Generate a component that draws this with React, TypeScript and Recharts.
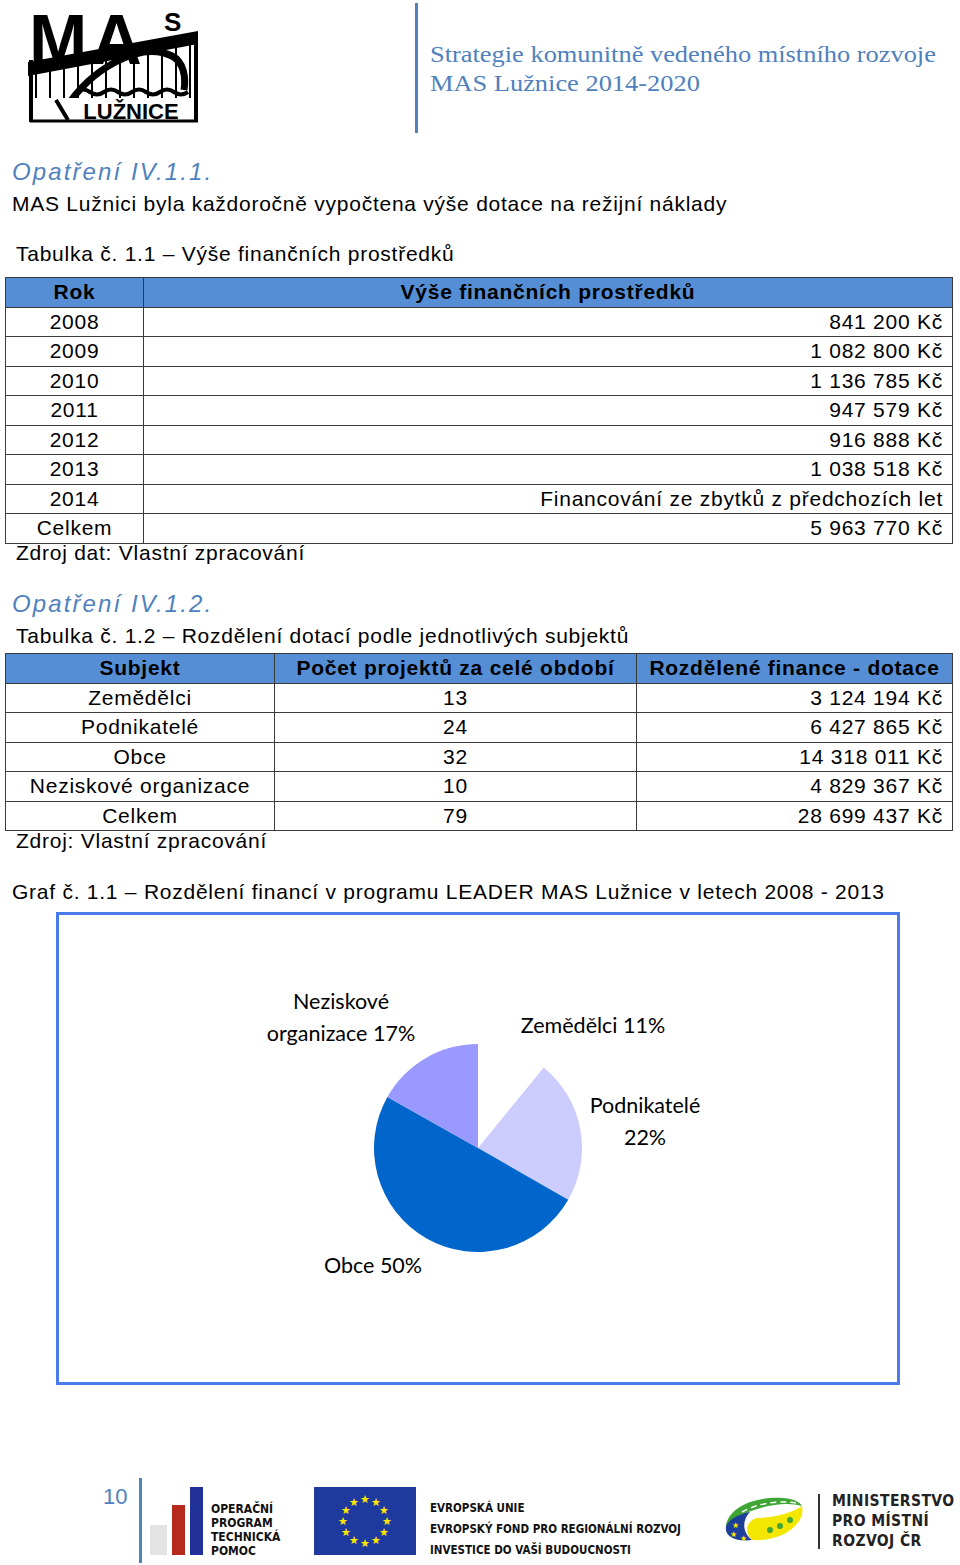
import React from "react";
import { PieChart, Pie, Cell } from "recharts";

const years = ["2008", "2009", "2010", "2011", "2012", "2013", "2014", "Celkem"];
const yearAmounts = ["841 200 Kč", "1 082 800 Kč", "1 136 785 Kč", "947 579 Kč", "916 888 Kč", "1 038 518 Kč", "Financování ze zbytků z předchozích let", "5 963 770 Kč"];

const subjects = ["Zemědělci", "Podnikatelé", "Obce", "Neziskové organizace"];
const projectCounts = [13, 24, 32, 10];
const financeLabels = ["3 124 194 Kč", "6 427 865 Kč", "14 318 011 Kč", "4 829 367 Kč"];
const financeValues = [3124194, 6427865, 14318011, 4829367];
const totalCount = 79;
const totalFinance = "28 699 437 Kč";

const sliceColors = ["#FFFFFF", "#CCCCFF", "#0066CC", "#9999FF"];

const pieData = subjects.map((s, i) => ({ name: s, value: financeValues[i] }));

// label placement relative to pie centre (text layout only)
const labelLayout: Record<string, { dx: number; dy: number; wrap: boolean }> = {
  "Zemědělci": { dx: 115, dy: -115, wrap: false },
  "Podnikatelé": { dx: 167, dy: -35, wrap: true },
  "Obce": { dx: -105, dy: 125, wrap: false },
  "Neziskové organizace": { dx: -137, dy: -139, wrap: true },
};

const BLUE_HEAD = "#4F81BD";
const bodyFont = "'Liberation Sans', Arial, sans-serif";
const LS = 0.75;

const renderLabel = (props: any) => {
  const { cx, cy, percent, name } = props;
  const lay = labelLayout[name];
  if (!lay) return null;
  const pct = Math.round(percent * 100) + "%";
  const x = cx + lay.dx;
  const y = cy + lay.dy;
  let lines: string[];
  if (lay.wrap) {
    const parts = name.split(" ");
    if (parts.length > 1) lines = [parts[0], parts.slice(1).join(" ") + " " + pct];
    else lines = [name, pct];
  } else lines = [name + " " + pct];
  return (
    <text x={x} y={y} textAnchor="middle" fill="#000" fontSize={21.5} fontFamily="Lato, 'Open Sans', sans-serif">
      {lines.map((l, i) => (
        <tspan key={i} x={x} dy={i === 0 ? 0 : 32}>{l}</tspan>
      ))}
    </text>
  );
};

const cellBorder = "1px solid #3a3a3a";

const abs = (left: number, top: number, extra: React.CSSProperties = {}): React.CSSProperties => ({
  position: "absolute",
  left,
  top,
  ...extra,
});

function MasLogo() {
  const bars = [36, 50, 64, 78, 92, 106, 120, 134, 148, 162, 176, 190];
  const bandTop = (x: number) => 62 - ((x - 28) * 31) / 170;
  return (
    <svg style={abs(0, 0)} width={210} height={130}>
      <text x={29} y={64} fontFamily="'Liberation Sans', Arial" fontWeight={900} fontSize={70} fill="#000" letterSpacing={4}>MA</text>
      <text x={164} y={31} fontFamily="'Liberation Sans', Arial" fontWeight={900} fontSize={26} fill="#000">S</text>
      {bars.map((x, i) => (
        <line key={i} x1={x} y1={bandTop(x) + 10} x2={x} y2={100} stroke="#000" strokeWidth={2} />
      ))}
      <polygon points="28,62 198,31 198,44 28,76" fill="#000" />
      <path d="M66,108 C90,70 140,40 172,56 C184,62 186,78 184,90" fill="none" stroke="#000" strokeWidth={7} />
      <path d="M76,92 q7,-5 14,0 q7,5 14,0 q7,-5 14,0 q7,5 14,0 q7,-5 14,0 q7,5 14,0 q7,-5 14,0 q7,5 14,0" fill="none" stroke="#000" strokeWidth={4} />
      <rect x={30} y={98} width={168} height={24} fill="#fff" />
      <text x={131} y={119} textAnchor="middle" fontFamily="'Liberation Sans', Arial" fontWeight={900} fontSize={22} fill="#000">LUŽNICE</text>
      <line x1={31} y1={60} x2={31} y2={122} stroke="#000" strokeWidth={4} />
      <line x1={196} y1={34} x2={196} y2={122} stroke="#000" strokeWidth={4} />
      <line x1={30} y1={121} x2={198} y2={121} stroke="#000" strokeWidth={3} />
      <line x1={56} y1={100} x2={68} y2={120} stroke="#000" strokeWidth={4} />
    </svg>
  );
}

function EuFlag() {
  const stars = Array.from({ length: 12 }, (_, i) => {
    const a = (i / 12) * Math.PI * 2;
    return { x: 51 + 22 * Math.cos(a), y: 34 + 22 * Math.sin(a) };
  });
  return (
    <svg style={abs(314, 1487)} width={102} height={68}>
      <rect x={0} y={0} width={102} height={68} fill="#1F3A9E" />
      {stars.map((s, i) => (
        <text key={i} x={s.x} y={s.y + 4} textAnchor="middle" fontSize={11} fill="#FFE600">★</text>
      ))}
    </svg>
  );
}

function MmrLogo() {
  return (
    <svg style={abs(720, 1490)} width={90} height={60}>
      <path d="M6,36 C8,18 34,6 62,8 C72,8 80,12 82,16 C70,12 50,14 34,20 C22,24 14,30 6,36 Z" fill="#3FA535" />
      <path d="M22,22 C36,14 56,10 76,13" fill="none" stroke="#fff" strokeWidth={1.5} strokeDasharray="6 4" />
      <path d="M6,36 C10,28 20,24 30,22 C22,30 22,42 32,50 C18,52 4,48 6,36 Z" fill="#1E3F99" />
      <path d="M32,50 C24,42 26,32 36,28 C52,28 70,24 82,16 C86,34 62,52 32,50 Z" fill="#F3E600" />
      <text x={12} y={38} fontSize={8} fill="#FFE600">★</text>
      <text x={10} y={47} fontSize={8} fill="#FFE600">★</text>
      <text x={20} y={51} fontSize={8} fill="#FFE600">★</text>
      <circle cx={50} cy={40} r={3} fill="#3FA535" />
      <circle cx={60} cy={36} r={3} fill="#3FA535" />
      <circle cx={70} cy={30} r={3} fill="#3FA535" />
    </svg>
  );
}

export default function App() {
  const rowH = 29.5;
  const txt: React.CSSProperties = { fontSize: 21, whiteSpace: "nowrap", letterSpacing: LS };
  const heading: React.CSSProperties = { fontSize: 24, fontStyle: "italic", color: BLUE_HEAD, letterSpacing: 2.1, whiteSpace: "nowrap" };
  const td: React.CSSProperties = { border: cellBorder, textAlign: "center", padding: 0 };
  const tdR: React.CSSProperties = { border: cellBorder, textAlign: "right", padding: "0 9px 0 0" };
  return (
    <div style={{ position: "absolute", left: 0, top: 0, width: 960, height: 1565, background: "#fff", fontFamily: bodyFont, color: "#000", overflow: "hidden" }}>
      <MasLogo />
      <div style={abs(415, 3, { width: 3, height: 130, background: "#4F81BD" })} />
      <div style={abs(430, 40, { fontFamily: "'Liberation Serif', serif", fontSize: 24, color: "#4F81BD", lineHeight: "29px", whiteSpace: "nowrap", transform: "scaleX(1.1)", transformOrigin: "0 0" })}>
        Strategie komunitně vedeného místního rozvoje<br />MAS Lužnice 2014-2020
      </div>

      <div style={abs(12, 158, heading)}>Opatření IV.1.1.</div>
      <div style={abs(12, 192, txt)}>MAS Lužnici byla každoročně vypočtena výše dotace na režijní náklady</div>
      <div style={abs(16, 242, txt)}>Tabulka č. 1.1 – Výše finančních prostředků</div>

      <table style={abs(5, 277, { width: 948, borderCollapse: "collapse", fontSize: 21, letterSpacing: LS, tableLayout: "fixed" })}>
        <colgroup><col style={{ width: 138 }} /><col /></colgroup>
        <tbody>
          <tr style={{ height: rowH, background: "#558ED5", fontWeight: "bold" }}>
            <td style={td}>Rok</td>
            <td style={td}>Výše finančních prostředků</td>
          </tr>
          {years.map((y, i) => (
            <tr key={y} style={{ height: rowH }}>
              <td style={td}>{y}</td>
              <td style={tdR}>{yearAmounts[i]}</td>
            </tr>
          ))}
        </tbody>
      </table>
      <div style={abs(16, 541, txt)}>Zdroj dat: Vlastní zpracování</div>

      <div style={abs(12, 590, heading)}>Opatření IV.1.2.</div>
      <div style={abs(16, 624, txt)}>Tabulka č. 1.2 – Rozdělení dotací podle jednotlivých subjektů</div>

      <table style={abs(5, 653, { width: 948, borderCollapse: "collapse", fontSize: 21, letterSpacing: LS, tableLayout: "fixed" })}>
        <colgroup><col style={{ width: 269 }} /><col style={{ width: 362 }} /><col /></colgroup>
        <tbody>
          <tr style={{ height: rowH, background: "#558ED5", fontWeight: "bold" }}>
            <td style={td}>Subjekt</td>
            <td style={td}>Počet projektů za celé období</td>
            <td style={td}>Rozdělené finance - dotace</td>
          </tr>
          {subjects.map((s, i) => (
            <tr key={s} style={{ height: rowH }}>
              <td style={td}>{s}</td>
              <td style={td}>{projectCounts[i]}</td>
              <td style={tdR}>{financeLabels[i]}</td>
            </tr>
          ))}
          <tr style={{ height: rowH }}>
            <td style={td}>Celkem</td>
            <td style={td}>{totalCount}</td>
            <td style={tdR}>{totalFinance}</td>
          </tr>
        </tbody>
      </table>
      <div style={abs(16, 829, txt)}>Zdroj: Vlastní zpracování</div>

      <div style={abs(12, 880, txt)}>Graf č. 1.1 – Rozdělení financí v programu LEADER MAS Lužnice v letech 2008 - 2013</div>

      <div style={abs(56, 912, { width: 838, height: 467, border: "3px solid #4A7BEA", background: "#fff" })}>
        <PieChart width={838} height={467} margin={{ top: 0, right: 0, bottom: 0, left: 0 }}>
          <Pie
            data={pieData}
            dataKey="value"
            nameKey="name"
            cx="50%"
            cy={233}
            outerRadius={104}
            startAngle={90}
            endAngle={-270}
            stroke="none"
            label={renderLabel}
            labelLine={false}
            isAnimationActive={false}
          >
            {pieData.map((d, i) => (
              <Cell key={d.name} fill={sliceColors[i]} />
            ))}
          </Pie>
        </PieChart>
      </div>

      <div style={abs(103, 1484, { fontSize: 22, color: "#4F81BD" })}>10</div>
      <div style={abs(139, 1478, { width: 3, height: 85, background: "#4F81BD" })} />
      <div style={abs(150, 1525, { width: 17, height: 30, background: "#E3E3E3" })} />
      <div style={abs(172, 1505, { width: 13, height: 50, background: "#B52A1C" })} />
      <div style={abs(190, 1487, { width: 13, height: 68, background: "#22309A" })} />
      <div style={abs(211, 1502, { fontFamily: "'DejaVu Sans Condensed', 'DejaVu Sans', sans-serif", fontWeight: "bold", fontSize: 12, lineHeight: "14px", color: "#111" })}>
        OPERAČNÍ<br />PROGRAM<br />TECHNICKÁ<br />POMOC
      </div>
      <EuFlag />
      <div style={abs(430, 1498, { fontFamily: "'DejaVu Sans Condensed', 'DejaVu Sans', sans-serif", fontWeight: "bold", fontSize: 11.5, lineHeight: "21px", color: "#111", whiteSpace: "nowrap" })}>
        EVROPSKÁ UNIE<br />EVROPSKÝ FOND PRO REGIONÁLNÍ ROZVOJ<br />INVESTICE DO VAŠÍ BUDOUCNOSTI
      </div>
      <MmrLogo />
      <div style={abs(818, 1494, { width: 2, height: 55, background: "#333" })} />
      <div style={abs(832, 1491, { fontFamily: "'DejaVu Sans Condensed', 'DejaVu Sans', sans-serif", fontWeight: "bold", fontSize: 15.5, lineHeight: "20px", color: "#222", whiteSpace: "nowrap", letterSpacing: 0.4 })}>
        MINISTERSTVO<br />PRO MÍSTNÍ<br />ROZVOJ ČR
      </div>
    </div>
  );
}
